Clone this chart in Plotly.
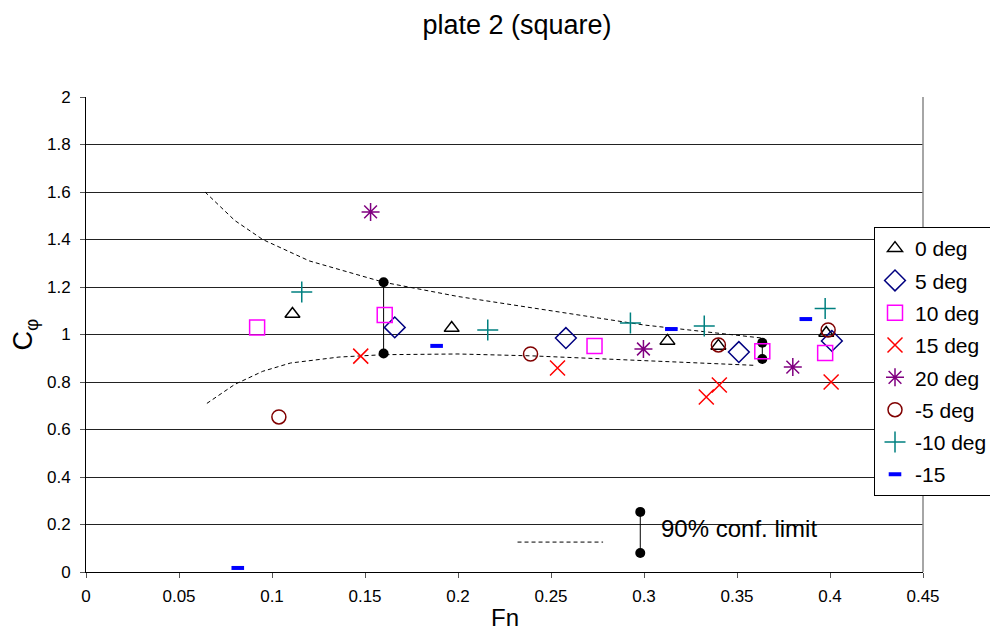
import plotly.graph_objects as go

# ---- data ----
fn_0 = [0.111, 0.1966, 0.3126, 0.340, 0.398]
cp_0 = [1.086, 1.027, 0.973, 0.952, 1.006]

fn_5 = [0.166, 0.258, 0.351, 0.401]
cp_5 = [1.030, 0.985, 0.926, 0.973]

fn_10 = [0.092, 0.1606, 0.2734, 0.3636, 0.3974]
cp_10 = [1.030, 1.082, 0.952, 0.930, 0.922]

fn_15 = [0.1477, 0.2535, 0.3335, 0.3405, 0.4006]
cp_15 = [0.909, 0.859, 0.737, 0.787, 0.800]

fn_20 = [0.153, 0.2997, 0.380]
cp_20 = [1.516, 0.939, 0.863]

fn_m5 = [0.1037, 0.239, 0.340, 0.399]
cp_m5 = [0.653, 0.918, 0.956, 1.019]

fn_m10 = [0.116, 0.216, 0.2927, 0.3324, 0.3974]
cp_m10 = [1.179, 1.019, 1.048, 1.036, 1.110]

fn_m15 = [0.0816, 0.1885, 0.3147, 0.387]
cp_m15 = [0.017, 0.952, 1.023, 1.065]

upper_fn = [0.064, 0.08, 0.095, 0.12, 0.16, 0.2, 0.25, 0.3, 0.3636]
upper_cp = [1.60, 1.48, 1.40, 1.31, 1.22, 1.16, 1.10, 1.04, 0.985]
lower_fn = [0.065, 0.08, 0.095, 0.11, 0.136, 0.16, 0.2, 0.24, 0.3, 0.36]
lower_cp = [0.71, 0.79, 0.845, 0.88, 0.905, 0.915, 0.918, 0.91, 0.89, 0.87]

conf1_fn = [0.16, 0.16]
conf1_cp = [0.92, 1.22]
conf2_fn = [0.3636, 0.3636]
conf2_cp = [0.897, 0.965]

key_line_fn = [0.232, 0.278]
key_line_cp = [0.126, 0.126]
key_bar_fn = [0.298, 0.298]
key_bar_cp = [0.08, 0.253]
key_text_fn = 0.308
key_text_cp = 0.185

series = [
    ("0 deg", fn_0, cp_0, "triangle-up-open", "black", 13, 1.5),
    ("5 deg", fn_5, cp_5, "diamond-open", "#000080", 16, 1.5),
    ("10 deg", fn_10, cp_10, "square-open", "#FF00FF", 15, 1.5),
    ("15 deg", fn_15, cp_15, "x-thin-open", "#FF0000", 15, 1.5),
    ("20 deg", fn_20, cp_20, "asterisk-open", "#800080", 15, 1.5),
    ("-5 deg", fn_m5, cp_m5, "circle-open", "#800000", 14, 1.5),
    ("-10 deg", fn_m10, cp_m10, "cross-thin-open", "#008080", 15, 1.5),
    ("-15", fn_m15, cp_m15, "line-ew-open", "#0000FF", 9, 4),
]

fig = go.Figure()

for xs, ys in [(upper_fn, upper_cp), (lower_fn, lower_cp), (key_line_fn, key_line_cp)]:
    fig.add_trace(go.Scatter(x=xs, y=ys, mode="lines", showlegend=False,
                             line=dict(color="black", width=1, dash="4px,3px"),
                             hoverinfo="skip"))

for xs, ys in [(conf1_fn, conf1_cp), (conf2_fn, conf2_cp), (key_bar_fn, key_bar_cp)]:
    fig.add_trace(go.Scatter(x=xs, y=ys, mode="lines+markers", showlegend=False,
                             line=dict(color="black", width=1),
                             marker=dict(color="black", size=10, symbol="circle"),
                             hoverinfo="skip"))

for name, xs, ys, sym, col, size, lw in series:
    fig.add_trace(go.Scatter(x=xs, y=ys, mode="markers", name=name, legendgroup=name,
                             marker=dict(symbol=sym, size=size, color=col,
                                         line=dict(color=col, width=lw))))

fig.add_annotation(x=key_text_fn, y=key_text_cp, text="90% conf. limit",
                   showarrow=False, xanchor="left", yanchor="middle",
                   font=dict(size=24, color="black"))

# page body has an 8px margin: figure sized/offset to compensate
W, H = 990, 622
L, T, R, B = 78, 89, 75, 58
PW, PH = W - L - R, H - T - B

fig.add_annotation(x=0.5, y=0, xref="paper", yref="paper",
                   text="Fn", showarrow=False, xanchor="center", yanchor="middle",
                   yshift=-45, font=dict(size=24, color="black"))

fig.update_layout(
    width=W, height=H,
    margin=dict(l=L, r=R, t=T, b=B, autoexpand=False),
    paper_bgcolor="white", plot_bgcolor="white",
    font=dict(family="Liberation Sans, Arial, sans-serif", color="black"),
    title=dict(text="plate 2 (square)", x=(509 - L) / PW, xref="paper",
               y=1 - 17 / H, yref="container", xanchor="center", yanchor="middle",
               font=dict(size=27, color="black")),
    xaxis=dict(range=[0, 0.45], tickvals=[0, 0.05, 0.1, 0.15, 0.2, 0.25, 0.3, 0.35, 0.4, 0.45],
               ticktext=["0", "0.05", "0.1", "0.15", "0.2", "0.25", "0.3", "0.35", "0.4", "0.45"],
               showgrid=False, zeroline=False, showline=True, linecolor="black", linewidth=1,
               mirror=False, ticks="outside", ticklen=5, tickcolor="#555",
               ticklabelstandoff=4, automargin=False,
               tickfont=dict(size=17)),
    yaxis=dict(range=[0, 2], tickvals=[0, 0.2, 0.4, 0.6, 0.8, 1, 1.2, 1.4, 1.6, 1.8, 2],
               ticktext=["0", "0.2", "0.4", "0.6", "0.8", "1", "1.2", "1.4", "1.6", "1.8", "2"],
               showgrid=True, gridcolor="#222", gridwidth=1, zeroline=False,
               showline=True, linecolor="black", linewidth=1,
               ticks="outside", ticklen=5, tickcolor="#555",
               ticklabelstandoff=6, automargin=False,
               tickfont=dict(size=17),
               title=dict(text="C<sub>φ</sub>", font=dict(size=27), standoff=14)),
    legend=dict(x=(874 - 8) / W, y=1 - (227 - 8) / H,
                xanchor="left", yanchor="top", xref="container", yref="container",
                bgcolor="white", bordercolor="black", borderwidth=1,
                font=dict(size=21), itemwidth=30, tracegroupgap=2),
    shapes=[dict(type="line", xref="paper", yref="paper", x0=1, x1=1, y0=0, y1=1,
                 line=dict(color="#888", width=1.5))],
)

fig.write_html("out.html")
